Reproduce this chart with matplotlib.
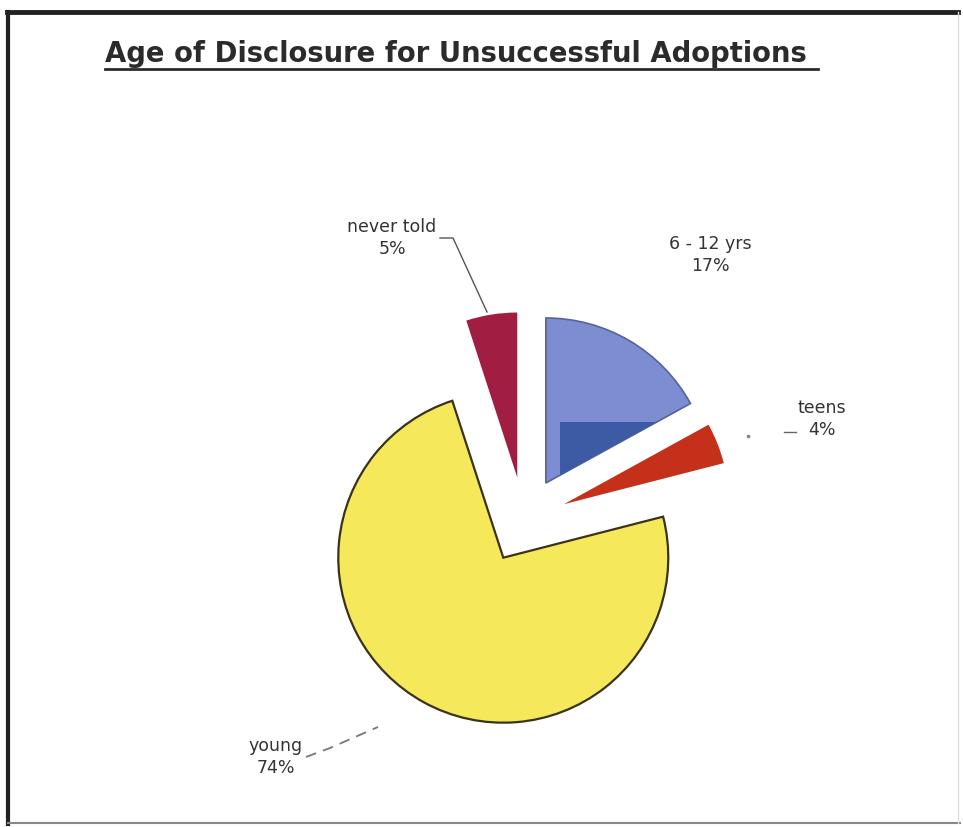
import matplotlib
matplotlib.use("Agg")
import matplotlib.pyplot as plt
from matplotlib.patches import Rectangle
from matplotlib.lines import Line2D

W, H = 963, 827

labels = ["6 - 12 yrs", "teens", "young", "never told"]
shares = [17, 4, 74, 5]
colors = ["#7c8dd2", "#c4301a", "#f5e85a", "#a11d41"]

plt.rcParams["font.family"] = ["DejaVu Sans"]

fig = plt.figure(figsize=(W / 100, H / 100), dpi=100)
ax = fig.add_axes([0, 0, 1, 1])

# pixel-like coordinates, y upwards; explode offsets are in data units
cx, cy, r = 524, H - 520, 165
explode = [43, 43, 43, 43]
wedges, _ = ax.pie(shares, colors=colors, explode=explode, startangle=90,
                   counterclock=False, radius=r, center=(cx, cy),
                   wedgeprops=dict(linewidth=0))
wedges[2].set_edgecolor("#3b321c")
wedges[2].set_linewidth(1.6)
wedges[0].set_edgecolor("#56629a")
wedges[0].set_linewidth(1.2)

# darker band in the lower part of the 6-12 slice
band = Rectangle((560, H - 492), 160, 70, facecolor="#3d5aa5", lw=0, zorder=2)
ax.add_patch(band)
band.set_clip_path(wedges[0])

ax.set_xlim(0, W)
ax.set_ylim(0, H)
ax.set_aspect("equal")
ax.axis("off")

# slice labels
txt = dict(ha="center", va="center", fontsize=12.5, color="#333333",
           linespacing=1.35)
ax.text(392, H - 238, f"{labels[3]}\n{shares[3]}%", **txt)
ax.text(710, H - 255, f"{labels[0]}\n{shares[0]}%", **txt)
ax.text(822, H - 419, f"{labels[1]}\n{shares[1]}%", **txt)
ax.text(276, H - 757, f"{labels[2]}\n{shares[2]}%", **txt)

# leader lines
ax.plot([440, 453, 487], [H - 238, H - 238, H - 312], color="#555555", lw=1)
ax.plot([784, 796], [H - 432, H - 432], color="#666666", lw=1)
ax.plot([748], [H - 436], marker="s", ms=1.5, color="#888888")
ax.plot([306, 330, 378], [H - 757, H - 748, H - 727], color="#777777",
        lw=1.3, ls=(0, (6, 4)))

# title with underline
fig.text(105 / W, 1 - 62 / H, "Age of Disclosure for Unsuccessful Adoptions",
         fontsize=19.8, fontweight="bold", color="#2b2b2b", ha="left",
         va="baseline")
fig.add_artist(Line2D([105 / W, 818 / W], [1 - 69 / H, 1 - 69 / H],
                      color="#2b2b2b", lw=2))

# outer frame
fig.add_artist(Line2D([7 / W, 958 / W], [1 - 12 / H, 1 - 12 / H],
                      color="#222222", lw=3.5))
fig.add_artist(Line2D([8 / W, 8 / W], [1 - 12 / H, 1 - 824 / H],
                      color="#222222", lw=3))
fig.add_artist(Line2D([8 / W, 960 / W], [1 - 823 / H, 1 - 823 / H],
                      color="#888888", lw=1.5))
fig.add_artist(Line2D([958 / W, 958 / W], [1 - 12 / H, 1 - 823 / H],
                      color="#dddddd", lw=1))

fig.savefig("out.png", dpi=100, facecolor="white")
